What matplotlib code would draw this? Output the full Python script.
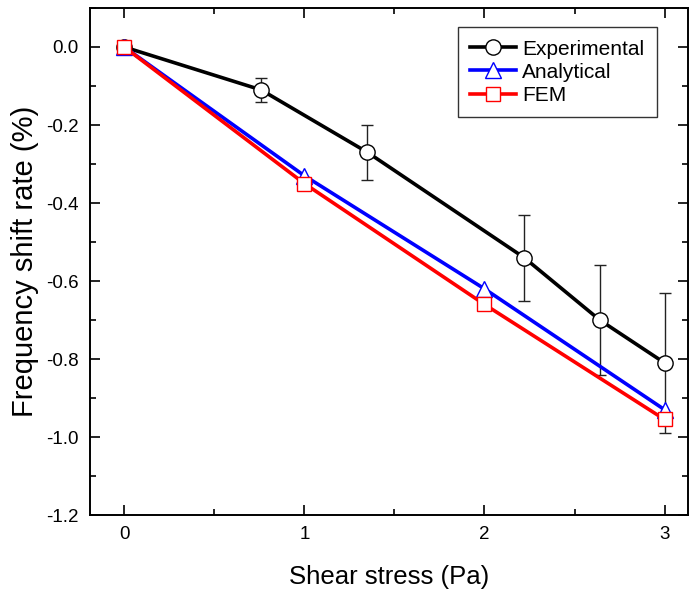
import matplotlib
matplotlib.use("Agg")
import matplotlib.pyplot as plt
from matplotlib.ticker import MultipleLocator

plt.rcParams["font.family"] = ["Liberation Sans", "DejaVu Sans"]

# experimental data (with error bars)
exp_x = [0, 0.76, 1.35, 2.22, 2.64, 3.0]
exp_y = [0, -0.11, -0.27, -0.54, -0.70, -0.81]
exp_err = [0, 0.03, 0.07, 0.11, 0.14, 0.18]

# model predictions
model_x = [0, 1, 2, 3]
analytical_y = [0, -0.33, -0.62, -0.93]
fem_y = [0, -0.35, -0.66, -0.955]

fig = plt.figure(figsize=(6.89, 5.92), dpi=100)
ax = fig.add_axes([0.1306, 0.130, 0.868, 0.8565])

ax.errorbar(exp_x, exp_y, yerr=exp_err, fmt="none", ecolor="#222222",
            elinewidth=1.0, capsize=4, capthick=1.0, zorder=2)
ax.plot(exp_x, exp_y, color="black", lw=2.6, marker="o", ms=11,
        mfc="white", mec="black", mew=1.0, label="Experimental", zorder=3)
ax.plot(model_x, analytical_y, color="#0000ff", lw=2.6, marker="^", ms=12,
        mfc="white", mec="#0000ff", mew=1.0, label="Analytical", zorder=4)
ax.plot(model_x, fem_y, color="#ff0000", lw=2.6, marker="s", ms=10,
        mfc="white", mec="#ff0000", mew=1.0, label="FEM", zorder=5)

ax.set_xlim(-0.19, 3.13)
ax.set_ylim(-1.2, 0.1)
ax.xaxis.set_major_locator(MultipleLocator(1))
ax.xaxis.set_minor_locator(MultipleLocator(0.5))
ax.yaxis.set_major_locator(MultipleLocator(0.2))
ax.yaxis.set_minor_locator(MultipleLocator(0.1))
ax.yaxis.set_major_formatter(plt.FuncFormatter(lambda v, p: f"{v:.1f}"))

ax.tick_params(which="both", direction="in", top=True, right=True,
               labelsize=13.5, width=1.2)
ax.tick_params(which="major", length=7, pad=8)
ax.tick_params(which="minor", length=4)
for s in ax.spines.values():
    s.set_linewidth(1.4)

ax.set_xlabel("Shear stress (Pa)", fontsize=18.5, labelpad=16)
ax.set_ylabel("Frequency shift rate (%)", fontsize=21, labelpad=5)

leg = ax.legend(loc="upper right", bbox_to_anchor=(0.948, 0.9625), fontsize=15,
                handlelength=2.2, handletextpad=0.3, borderpad=0.6,
                labelspacing=0.2, borderaxespad=0, fancybox=False, framealpha=1)
leg.get_frame().set_edgecolor("#333333")
leg.get_frame().set_linewidth(1.0)

fig.savefig("out.png", dpi=100)
